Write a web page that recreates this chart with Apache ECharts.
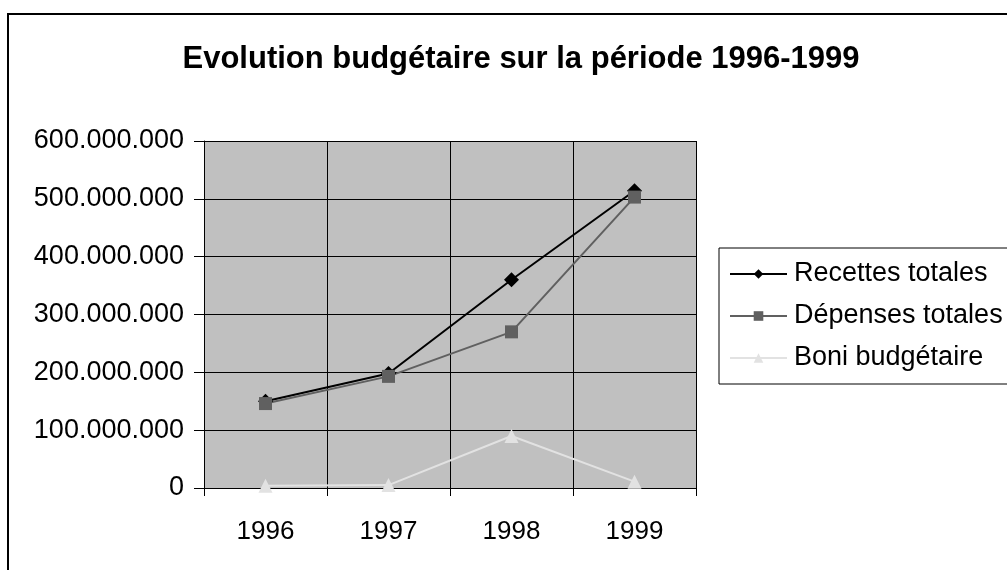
<!DOCTYPE html>
<html><head><meta charset="utf-8">
<script src="https://cdn.jsdelivr.net/npm/echarts@6/dist/echarts.min.js"></script>
<style>html,body{margin:0;padding:0;background:#fff}#c{width:1007px;height:570px}</style>
</head><body><div id="c"></div>
<script>
var categories = ['1996', '1997', '1998', '1999'];
var recettes = [150000000, 198000000, 360000000, 514000000];
var depenses = [146000000, 193000000, 270000000, 503000000];
var boni = [4000000, 5000000, 90000000, 11000000];
var seriesNames = ['Recettes totales', 'Dépenses totales', 'Boni budgétaire'];
var yMin = 0, yMax = 600000000, yInterval = 100000000;

function fmt(v) {
  return String(Math.round(v)).replace(/\B(?=(\d{3})+(?!\d))/g, '.');
}
var font = 'Liberation Sans, Arial, sans-serif';
var chart = echarts.init(document.getElementById('c'), null, {renderer: 'canvas'});
chart.setOption({
  animation: false,
  backgroundColor: '#fff',
  title: {
    text: 'Evolution budgétaire sur la période 1996-1999',
    left: 516, top: 39, textAlign: 'center',
    textStyle: {fontFamily: font, fontSize: 31, fontWeight: 'bold', color: '#000'}
  },
  graphic: [{
    type: 'rect', z: 100, silent: true,
    shape: {x: 8, y: 14, width: 1100, height: 700},
    style: {fill: 'none', stroke: '#000', lineWidth: 2}
  }],
  legend: {
    orient: 'vertical', left: 719, top: 248,
    padding: [12, 60, 12, 10],
    itemGap: 14, itemWidth: 57, itemHeight: 12,
    borderColor: '#000', borderWidth: 1, backgroundColor: '#fff',
    textStyle: {fontFamily: font, fontSize: 27, lineHeight: 28, color: '#000', padding: [0, 0, 0, 2]},
    data: seriesNames
  },
  grid: {left: 204, right: 311, top: 141, bottom: 82, show: true,
         backgroundColor: '#c0c0c0', borderWidth: 0},
  xAxis: {
    type: 'category', data: categories, boundaryGap: true,
    axisLine: {lineStyle: {color: '#000', width: 1}},
    axisTick: {show: true, length: 8, lineStyle: {color: '#000'}},
    axisLabel: {fontFamily: font, fontSize: 26, color: '#000', margin: 31},
    splitLine: {show: true, lineStyle: {color: '#000', width: 1}}
  },
  yAxis: {
    type: 'value', min: yMin, max: yMax, interval: yInterval,
    axisLine: {show: true, lineStyle: {color: '#000', width: 1}},
    axisTick: {show: true, length: 10, lineStyle: {color: '#000'}},
    axisLabel: {fontFamily: font, fontSize: 27, color: '#000', margin: 20, formatter: fmt},
    splitLine: {show: true, lineStyle: {color: '#000', width: 1}}
  },
  series: [
    {name: seriesNames[0], type: 'line', data: recettes, symbol: 'diamond', symbolSize: 15,
     lineStyle: {color: '#000', width: 2}, itemStyle: {color: '#000'}},
    {name: seriesNames[1], type: 'line', data: depenses, symbol: 'rect', symbolSize: 13,
     lineStyle: {color: '#606060', width: 2}, itemStyle: {color: '#606060'}},
    {name: seriesNames[2], type: 'line', data: boni, symbol: 'triangle', symbolSize: 14,
     lineStyle: {color: '#e2e2e2', width: 2}, itemStyle: {color: '#e2e2e2'}}
  ]
});
</script></body></html>
